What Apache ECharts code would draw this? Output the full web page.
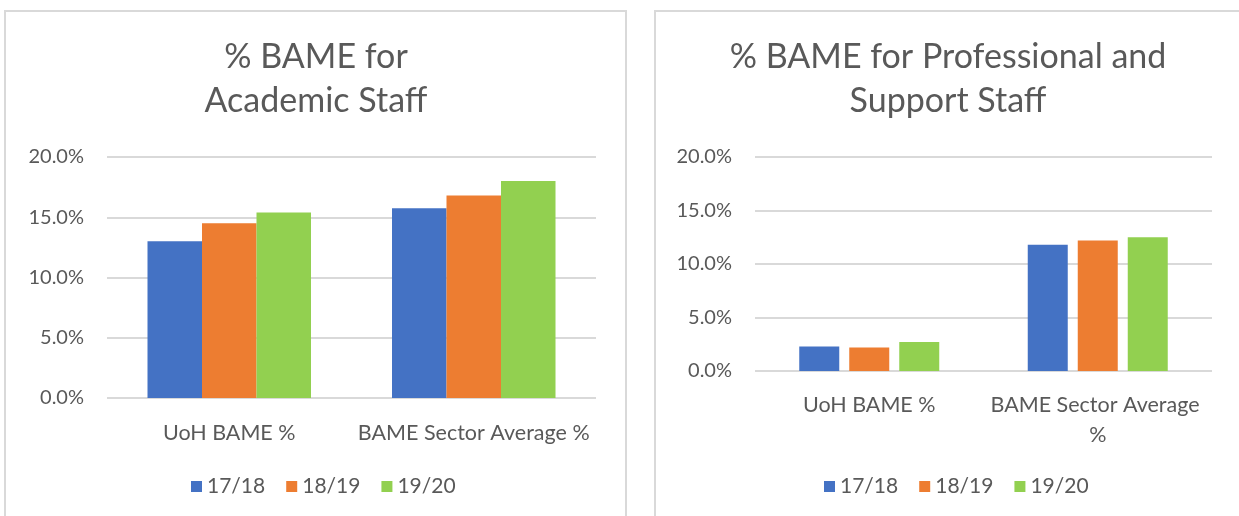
<!DOCTYPE html>
<html>
<head>
<meta charset="utf-8">
<script src="https://cdn.jsdelivr.net/npm/echarts@6/dist/echarts.min.js"></script>
<style>
  html, body { margin: 0; padding: 0; background: #fff; }
  #main { width: 1239px; height: 516px; }
</style>
</head>
<body>
<div id="main"></div>
<script>
var categories = ['UoH BAME %', 'BAME Sector Average %'];
var years = ['17/18', '18/19', '19/20'];
var yTicks = [0, 5, 10, 15, 20];

// % BAME for Academic Staff
var academic1718 = [13.0, 15.75];
var academic1819 = [14.5, 16.8];
var academic1920 = [15.4, 18.0];

// % BAME for Professional and Support Staff
var prof1718 = [2.3, 11.8];
var prof1819 = [2.2, 12.2];
var prof1920 = [2.7, 12.5];

var colors = ['#4472C4', '#ED7D31', '#92D050'];
var textColor = '#595959';
var font = 'Lato, "Open Sans", sans-serif';

var myChart = echarts.init(document.getElementById('main'));

function yAxisFor(idx) {
  return {
    type: 'value',
    gridIndex: idx,
    min: yTicks[0],
    max: yTicks[yTicks.length - 1],
    interval: yTicks[1] - yTicks[0],
    axisLine: { show: false },
    axisTick: { show: false },
    axisLabel: {
      color: textColor,
      fontFamily: font,
      fontSize: 20,
      margin: 23,
      formatter: function (v) { return v.toFixed(1) + '%'; }
    },
    splitLine: { lineStyle: { color: '#d9d9d9', width: 2 } }
  };
}

function xAxisFor(idx, margin, width) {
  return {
    type: 'category',
    gridIndex: idx,
    data: categories,
    axisLine: { show: false },
    axisTick: { show: false },
    axisLabel: {
      interval: 0,
      hideOverlap: false,
      color: textColor,
      fontFamily: font,
      fontSize: 21.5,
      lineHeight: 30,
      margin: margin,
      width: width,
      overflow: 'break'
    }
  };
}

function legendFor(left) {
  return {
    data: years,
    left: left,
    top: 471,
    icon: 'rect',
    itemWidth: 11,
    itemHeight: 11,
    itemGap: 21,
    textStyle: { color: textColor, fontFamily: font, fontSize: 21 }
  };
}

var academicData = [academic1718, academic1819, academic1920];
var profData = [prof1718, prof1819, prof1920];

var series = [];
years.forEach(function (y, i) {
  series.push({
    name: y, type: 'bar', xAxisIndex: 0, yAxisIndex: 0,
    data: academicData[i], barWidth: 54.5, barGap: '0%',
    itemStyle: { color: colors[i] }
  });
});
years.forEach(function (y, i) {
  series.push({
    name: y, type: 'bar', xAxisIndex: 1, yAxisIndex: 1,
    data: profData[i], barWidth: 40, barGap: '25%',
    itemStyle: { color: colors[i] }
  });
});

var option = {
  animation: false,
  color: colors,
  grid: [
    { left: 107, top: 157, width: 489, height: 241 },
    { left: 755, top: 157, width: 457, height: 214 }
  ],
  xAxis: [xAxisFor(0, 20, 300), xAxisFor(1, 19, 225)],
  yAxis: [yAxisFor(0), yAxisFor(1)],
  legend: [legendFor(186), legendFor(819)],
  graphic: [
    { type: 'rect', shape: { x: 5, y: 11, width: 621, height: 520 },
      style: { fill: 'none', stroke: '#d9d9d9', lineWidth: 2 }, silent: true },
    { type: 'rect', shape: { x: 655, y: 11, width: 600, height: 520 },
      style: { fill: 'none', stroke: '#d9d9d9', lineWidth: 2 }, silent: true },
    { type: 'text', x: 316, y: 79,
      style: { text: '% BAME for\nAcademic Staff', fill: textColor, font: '34px ' + font,
               lineHeight: 44, align: 'center', verticalAlign: 'middle' } },
    { type: 'text', x: 948, y: 79,
      style: { text: '% BAME for Professional and\nSupport Staff', fill: textColor, font: '34px ' + font,
               lineHeight: 44, align: 'center', verticalAlign: 'middle' } }
  ],
  series: series
};

myChart.setOption(option);
</script>
</body>
</html>
